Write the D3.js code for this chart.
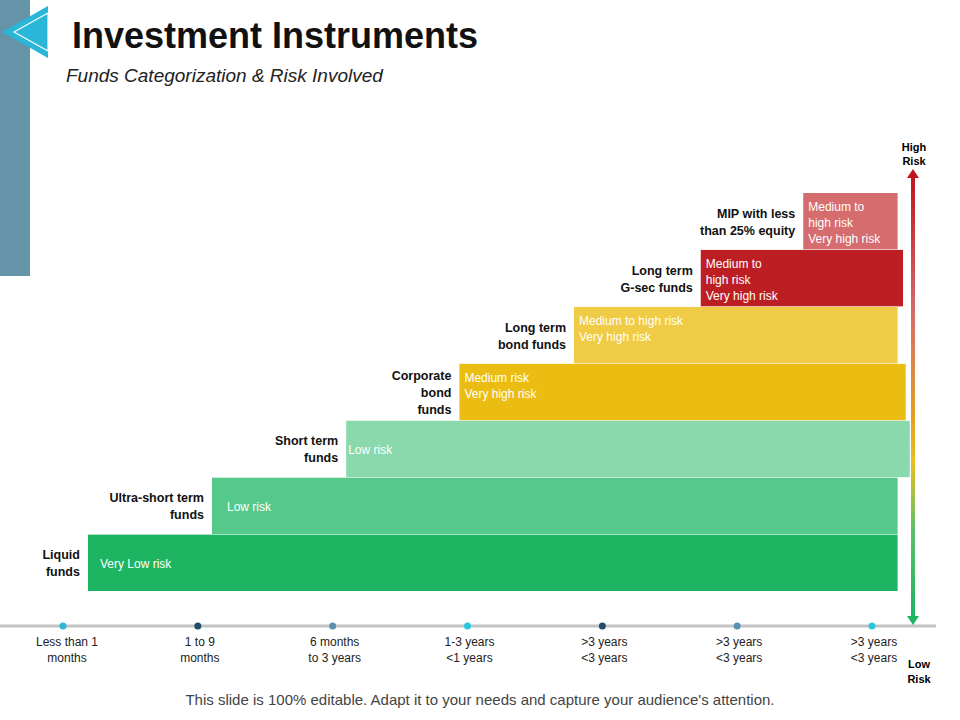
<!DOCTYPE html><html><head><meta charset="utf-8">
<script src="https://cdn.jsdelivr.net/npm/d3@7"></script>
<style>body{margin:0;background:#fff}text{font-family:Arial,"Liberation Sans",sans-serif}</style></head><body>
<svg id="c" width="960" height="720"></svg>
<script>
const funds=["Liquid funds","Ultra-short term funds","Short term funds","Corporate bond funds","Long term bond funds","Long term G-sec funds","MIP with less than 25% equity"];
const labelLines=[["Liquid","funds"],["Ultra-short term","funds"],["Short term","funds"],["Corporate","bond","funds"],["Long term","bond funds"],["Long term","G-sec funds"],["MIP with less","than 25% equity"]];
const startPos=[0.185,1.105,2.1,2.94,3.79,4.73,5.49];
const endPos=[6.19,6.19,6.28,6.25,6.19,6.23,6.19];
const riskText=[["Very Low risk"],["Low risk"],["Low risk"],["Medium risk","Very high risk"],["Medium to high risk","Very high risk"],["Medium to","high risk","Very high risk"],["Medium to","high risk","Very high risk"]];
const colors=["#1db562","#55c98a","#8ad9ad","#ebbd12","#f0cb45","#bd1e24","#d56c6e"];
const tickLabels=[["Less than 1","months"],["1 to 9","months"],["6 months","to 3 years"],["1-3 years","<1 years"],[">3 years","<3 years"],[">3 years","<3 years"],[">3 years","<3 years"]];
const dotColors=["#29b6d8","#1f4e6b","#5a8fae","#29c6e0","#1f4e6b","#5a8fae","#29c6e0"];

const svg=d3.select("#c");
// decoration
svg.append("rect").attr("x",0).attr("y",0).attr("width",30).attr("height",276).attr("fill","#6593a8");
svg.append("path").attr("d","M2,32 L48,6 L48,58 Z").attr("fill","#29b6d8");
svg.append("path").attr("d","M14,32 L48,13 L48,51 Z").attr("fill","none").attr("stroke","#fff").attr("stroke-width",1.2);
svg.append("text").attr("x",72).attr("y",48).attr("font-size",36).attr("font-weight","bold").attr("fill","#111").text("Investment Instruments");
svg.append("text").attr("x",66).attr("y",82).attr("font-size",19).attr("font-style","italic").attr("fill","#222").text("Funds Categorization & Risk Involved");

const x=d3.scaleLinear().domain([0,6]).range([63,872]);
const y=d3.scaleBand().domain(funds).range([591,193]).paddingInner(0.01);

const g=svg.append("g");
funds.forEach((f,i)=>{
  const x0=x(startPos[i]),x1=x(endPos[i]),y0=y(f),h=y.bandwidth();
  g.append("rect").attr("x",x0).attr("y",y0).attr("width",x1-x0).attr("height",h).attr("fill",colors[i]);
  riskText[i].forEach((t,j)=>g.append("text").attr("x",x0+(i==0?12:i==2?2:i<3?15:5)).attr("y",y0+(riskText[i].length==1?h/2+5:18+j*16)).attr("font-size",12).attr("fill","#fff").text(t));
  const n=labelLines[i].length;
  labelLines[i].forEach((t,j)=>g.append("text").attr("x",x0-8).attr("y",y0+h/2+5-(n-1)*8.5+j*17).attr("text-anchor","end").attr("font-size",12.5).attr("font-weight","bold").attr("fill","#111").text(t));
});

// timeline
svg.append("line").attr("x1",0).attr("x2",936).attr("y1",626).attr("y2",626).attr("stroke","#c4c4c4").attr("stroke-width",3);
tickLabels.forEach((tl,i)=>{
  svg.append("circle").attr("cx",x(i)).attr("cy",626).attr("r",3.5).attr("fill",dotColors[i]);
  tl.forEach((t,j)=>svg.append("text").attr("x",x(i)+(i==0?4:2)).attr("y",646+j*16).attr("text-anchor","middle").attr("font-size",12).attr("fill","#222").text(t));
});

// risk arrow
const defs=svg.append("defs");
const gr=defs.append("linearGradient").attr("id","rg").attr("x1",0).attr("y1",0).attr("x2",0).attr("y2",1).attr("gradientUnits","objectBoundingBox");
[[0,"#c0141e"],[0.3,"#d46a6c"],[0.55,"#e8a020"],[0.65,"#e8c020"],[0.8,"#5cbf6a"],[1,"#1db562"]].forEach(s=>gr.append("stop").attr("offset",s[0]).attr("stop-color",s[1]));
svg.append("rect").attr("x",911).attr("y",176).attr("width",4).attr("height",442).attr("fill","url(#rg)");
svg.append("path").attr("d","M907,178 L913,169 L919,178 Z").attr("fill","#c0141e");
svg.append("path").attr("d","M907,616 L913,625 L919,616 Z").attr("fill","#1db562");
[["High",151],["Risk",165]].forEach(a=>svg.append("text").attr("x",914).attr("y",a[1]).attr("text-anchor","middle").attr("font-size",11).attr("font-weight","bold").text(a[0]));
[["Low",668],["Risk",683]].forEach(a=>svg.append("text").attr("x",919).attr("y",a[1]).attr("text-anchor","middle").attr("font-size",11).attr("font-weight","bold").text(a[0]));

svg.append("text").attr("x",480).attr("y",705).attr("text-anchor","middle").attr("font-size",15).attr("fill","#444").text("This slide is 100% editable. Adapt it to your needs and capture your audience's attention.");
</script></body></html>
